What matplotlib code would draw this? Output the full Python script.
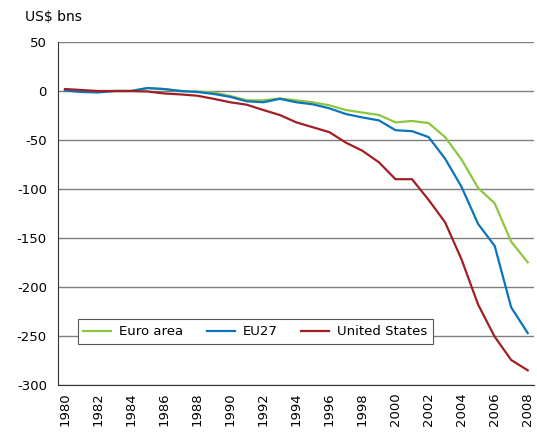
import numpy as np
import matplotlib
matplotlib.use('Agg')
import matplotlib.pyplot as plt

years = list(range(1980, 2009))

euro_area = [0.5, -0.5, -1, 0, 0, 3, 2, 0, -0.5, -1.5, -5, -9.5, -9.5, -7.5, -9.5, -11.5, -14.6,
             -19.4, -22, -24.5, -32, -30.6, -32.7, -47, -70, -99, -114.6, -153.7, -174.8]
eu27 = [0.5, -1, -1.5, 0, 0, 3, 2, 0, -1, -3, -6, -10.5, -11.5, -8, -11.5, -13.6, -17.7,
        -23.5, -27, -30, -40, -41, -47, -69, -98, -135.7, -158, -220.8, -247]
united_states = [2, 1, 0, 0, 0, -0.5, -2.5, -3.5, -4.8, -8, -11.5, -14, -19.4, -24.5, -32, -37, -42,
                 -52.7, -61, -72.8, -90, -90, -111, -134, -172, -218, -250.7, -274.5, -285]
tick_years = list(range(1980, 2009, 2))

plt.rcParams['font.family'] = ['DejaVu Sans']
plt.rcParams['axes.unicode_minus'] = False  # reference uses plain hyphens

fig = plt.figure(figsize=(5.37, 4.36), dpi=100)
ax = fig.add_axes([58/537, 1 - 385/436, 476/537, 343/436])

ax.plot(years, euro_area, color='#8dc63f', lw=1.6, label='Euro area')
ax.plot(years, eu27, color='#0a74bc', lw=1.6, label='EU27')
ax.plot(years, united_states, color='#a01f24', lw=1.6, label='United States')

ax.set_ylim(-300, 50)
ax.set_xlim(1979.58, 2008.38)
ax.set_yticks(range(-300, 51, 50))
ax.set_xticks(tick_years)
ax.set_xticklabels([str(y) for y in tick_years], rotation=90)
ax.tick_params(axis='y', labelsize=9.5, length=0, pad=8)
ax.tick_params(axis='x', labelsize=9.5, length=0, pad=5)
ax.yaxis.grid(True, color='#7f7f7f', lw=1)
ax.set_axisbelow(True)
for s in ['top', 'right']:
    ax.spines[s].set_visible(False)
for s in ['left', 'bottom']:
    ax.spines[s].set_color('#333333')

fig.text(25/537, 1 - 17/436, 'US$ bns', fontsize=10, va='center', ha='left')

leg = ax.legend(ncol=3, loc='lower left', bbox_to_anchor=(0.041, 0.119), fontsize=9.5,
                frameon=True, fancybox=False, edgecolor='#555555', framealpha=1,
                handlelength=2.1, handletextpad=0.6, columnspacing=1.8, borderpad=0.45,
                borderaxespad=0)
leg.get_frame().set_linewidth(0.8)

fig.savefig('out.png', dpi=100)
